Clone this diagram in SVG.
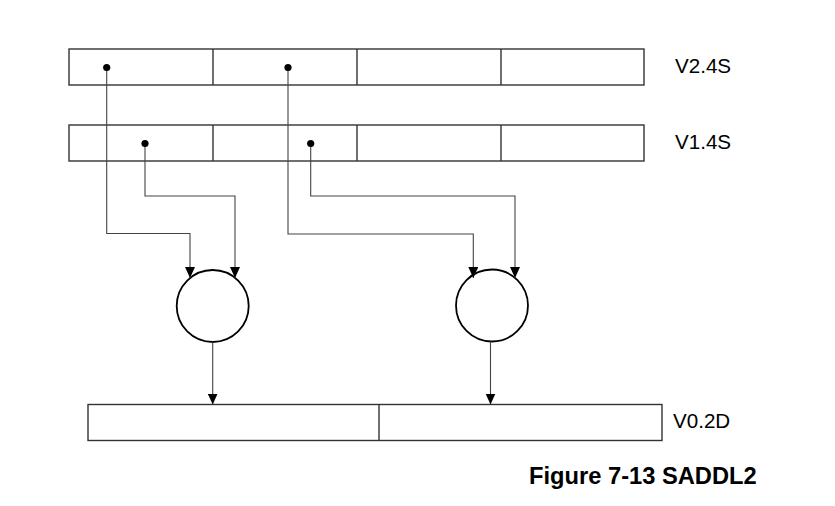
<svg xmlns="http://www.w3.org/2000/svg" width="835" height="506" viewBox="0 0 835 506">
<style>
.reg{fill:#fff;stroke:#333;stroke-width:1.4}
.div{stroke:#333;stroke-width:1.4}
.op{fill:#fff;stroke:#000;stroke-width:1.8}
.wire{fill:none;stroke:#444;stroke-width:1.1}
.dot{fill:#000}
.lbl{font-family:"Liberation Sans",Arial,sans-serif;font-size:20.6px;fill:#000}
.cap{font-family:"Liberation Sans",Arial,sans-serif;font-size:23.7px;font-weight:bold;fill:#000}
</style>
<defs>
<marker id="ah" viewBox="0 0 11 10" refX="11" refY="5" markerWidth="11" markerHeight="10" markerUnits="userSpaceOnUse" orient="auto">
<path d="M0,0 L11,5 L0,10 Z" fill="#000"/>
</marker>
</defs>
<rect width="835" height="506" fill="#fff"/>
<g id="V2">
<rect class="reg" x="69" y="49" width="575" height="36"/>
<line class="div" x1="213" y1="49" x2="213" y2="85"/>
<line class="div" x1="357" y1="49" x2="357" y2="85"/>
<line class="div" x1="501" y1="49" x2="501" y2="85"/>
<text class="lbl" x="675" y="73.3">V2.4S</text>
</g>
<g id="V1">
<rect class="reg" x="69" y="125" width="575" height="36"/>
<line class="div" x1="213" y1="125" x2="213" y2="161"/>
<line class="div" x1="357" y1="125" x2="357" y2="161"/>
<line class="div" x1="501" y1="125" x2="501" y2="161"/>
<text class="lbl" x="675" y="149.3">V1.4S</text>
</g>
<g id="add1">
<circle class="op" cx="212.7" cy="306" r="36"/>
</g>
<g id="add2">
<circle class="op" cx="492" cy="305.5" r="36"/>
</g>
<g id="V0">
<rect class="reg" x="88" y="404.5" width="574" height="36"/>
<line class="div" x1="379" y1="404.5" x2="379" y2="440.5"/>
<text class="lbl" x="673" y="428.3">V0.2D</text>
</g>
<g id="connectors">
<path class="wire" d="M106.7,67.5 V233.5 H190 V278" marker-end="url(#ah)"/>
<path class="wire" d="M145,143.5 V196 H235 V278" marker-end="url(#ah)"/>
<path class="wire" d="M288,67.5 V234 H473.3 V278" marker-end="url(#ah)"/>
<path class="wire" d="M310.7,143.5 V196 H515 V278" marker-end="url(#ah)"/>
<path class="wire" d="M212.7,342 V404.5" stroke="#000" marker-end="url(#ah)"/>
<path class="wire" d="M490.5,341.5 V404.5" stroke="#000" marker-end="url(#ah)"/>
<circle class="dot" cx="106.7" cy="67.5" r="3.6"/>
<circle class="dot" cx="288" cy="67.5" r="3.6"/>
<circle class="dot" cx="145" cy="143.5" r="3.6"/>
<circle class="dot" cx="310.7" cy="143.5" r="3.6"/>
</g>
<text class="cap" x="529" y="484.3">Figure 7-13 SADDL2</text>
</svg>
